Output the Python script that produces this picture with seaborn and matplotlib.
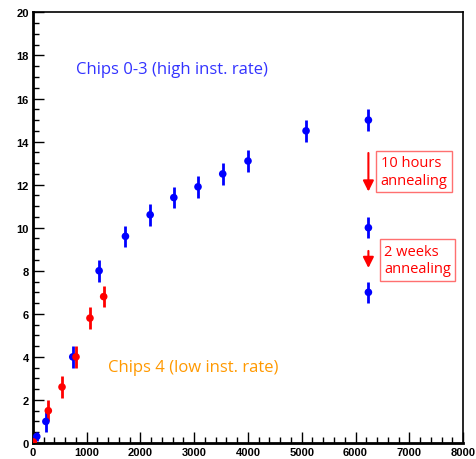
import numpy as np
import pandas as pd
import matplotlib
matplotlib.use("Agg")
import matplotlib.pyplot as plt
from matplotlib.ticker import MultipleLocator
import seaborn as sns

# Data
blue_x = [70, 240, 740, 1230, 1720, 2180, 2620, 3070, 3530, 4000, 5080, 6240, 6240, 6240]
blue_y = [0.3, 1.0, 4.0, 8.0, 9.6, 10.6, 11.4, 11.9, 12.5, 13.1, 14.5, 15.0, 10.0, 7.0]
blue_err = [0.2, 0.5, 0.5, 0.5, 0.5, 0.5, 0.5, 0.5, 0.5, 0.5, 0.5, 0.5, 0.5, 0.5]

red_x = [5, 285, 540, 800, 1060, 1315]
red_y = [0.05, 1.5, 2.6, 4.0, 5.8, 6.8]
red_err = [0.0, 0.5, 0.5, 0.5, 0.5, 0.5]

x_ticks = [0, 1000, 2000, 3000, 4000, 5000, 6000, 7000, 8000]
y_ticks = [0, 2, 4, 6, 8, 10, 12, 14, 16, 18, 20]

BLUE = "#0000ff"
RED = "#ff0000"

sns.set_style("ticks")
plt.rcParams['font.family'] = ['Liberation Sans', 'DejaVu Sans']

df = pd.concat([
    pd.DataFrame({"x": blue_x, "y": blue_y, "err": blue_err, "grp": "blue"}),
    pd.DataFrame({"x": red_x, "y": red_y, "err": red_err, "grp": "red"}),
], ignore_index=True)

fig = plt.figure(figsize=(4.76, 4.6), dpi=100)
ax = fig.add_axes([0.0693, 0.0348, 0.9034, 0.936])

for grp, col in [("blue", BLUE), ("red", RED)]:
    d = df[df["grp"] == grp]
    ax.errorbar(d["x"], d["y"], yerr=d["err"], fmt="none", ecolor=col,
                elinewidth=2, capsize=0, zorder=3)
sns.scatterplot(data=df, x="x", y="y", hue="grp", palette={"blue": BLUE, "red": RED},
                s=30, edgecolor="none", legend=False, ax=ax, zorder=4)

ax.set_xlim(0, 8000)
ax.set_ylim(0, 20)
ax.set_xticks(x_ticks)
ax.set_yticks(y_ticks)
ax.xaxis.set_minor_locator(MultipleLocator(200))
ax.yaxis.set_minor_locator(MultipleLocator(0.5))
ax.tick_params(which="both", direction="in", top=False, right=False,
               color="black", labelcolor="black")
ax.tick_params(which="major", length=8, width=1)
ax.tick_params(which="minor", length=4, width=1)
ax.tick_params(axis="both", labelsize=8, pad=3)
for lab in ax.get_xticklabels() + ax.get_yticklabels():
    lab.set_fontweight("bold")
ax.set_xlabel("")
ax.set_ylabel("")
for side in ["top", "right"]:
    ax.spines[side].set_visible(True)
    ax.spines[side].set_linewidth(1.2)
ax.spines["left"].set_linewidth(2)
ax.spines["bottom"].set_linewidth(2)
for sp in ax.spines.values():
    sp.set_color("black")

ax.text(800, 17.35, "Chips 0-3 (high inst. rate)", color="#3333ff", fontsize=12,
        va="center", ha="left", family=["Open Sans", "DejaVu Sans"])
ax.text(1395, 3.55, "Chips 4 (low inst. rate)", color="#ff9900", fontsize=12,
        va="center", ha="left", family=["Open Sans", "DejaVu Sans"])

ax.annotate("", xy=(6240, 11.55), xytext=(6240, 13.6),
            arrowprops=dict(arrowstyle="-|>", color=RED, lw=1.5, mutation_scale=16))
ax.annotate("", xy=(6240, 8.0), xytext=(6240, 9.05),
            arrowprops=dict(arrowstyle="-|>", color=RED, lw=1.5, mutation_scale=16))

box = dict(boxstyle="square,pad=0.3", facecolor="white", edgecolor="#ff7070", lw=1)
ax.text(6470, 12.6, "10 hours\nannealing", color=RED, fontsize=10.5, va="center", ha="left",
        bbox=box, linespacing=1.25, family=["Open Sans", "DejaVu Sans"])
ax.text(6530, 8.5, "2 weeks\nannealing", color=RED, fontsize=10.5, va="center", ha="left",
        bbox=box, linespacing=1.25, family=["Open Sans", "DejaVu Sans"])

plt.savefig("out.png", dpi=100)
